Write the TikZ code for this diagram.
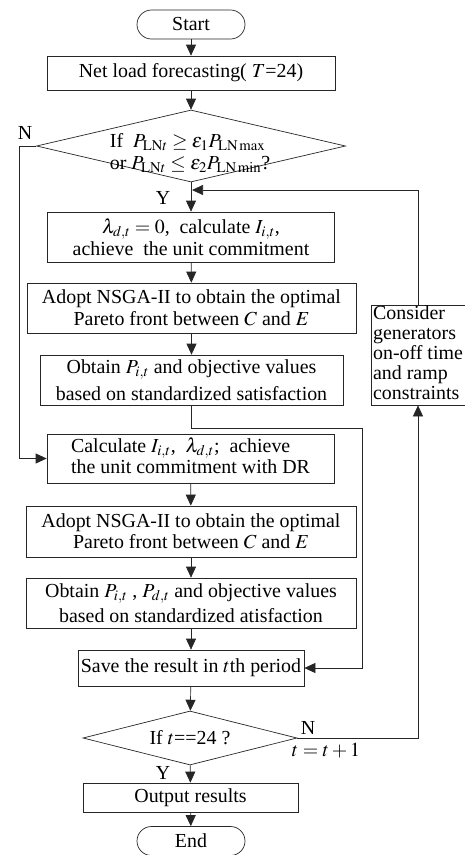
\documentclass[tikz,border=0pt]{standalone}
\usepackage{mathptmx}
\usepackage{fontspec}
\setmainfont{Liberation Serif}
\usetikzlibrary{shapes.geometric,arrows.meta}
\tikzset{
  box/.style={draw=black!85, line width=0.7pt, inner sep=0pt, align=center},
  term/.style={box, rounded corners=14.5pt},
  dec/.style={diamond, draw=black!85, line width=0.7pt, inner sep=0pt},
  arr/.style={draw=black!85, line width=0.7pt, -{Triangle[length=11pt,width=10pt]}}
}
\begin{document}
\begin{tikzpicture}[x=1pt,y=-1pt,font=\fontsize{19.9}{21.5}\selectfont]
\useasboundingbox (0,0) rectangle (465,855);
% main column
\node[term, minimum width=108, minimum height=29] (start) at (191,24.5) {Start};
\node[box, minimum width=288, minimum height=34] (load) at (191,73) {Net load forecasting( $T$=24)};
\node[dec, minimum width=309, minimum height=72] (dec1) at (191,146) {};
\node[align=left, inner sep=0pt] (dec1txt) at (190,153)
  {If\ \ $P_{\mathrm{LN}t}\geq\varepsilon_1P_{\mathrm{LN\,max}}$\\[1pt]or $P_{\mathrm{LN}t}\leq\varepsilon_2P_{\mathrm{LN\,min}}$?};
\node[box, minimum width=287, minimum height=50] (lam) at (191,237)
  {$\lambda_{d,t}=0$,\ \ calculate $I_{i,t}$,\\achieve\ \ the unit commitment};
\node[box, minimum width=329, minimum height=50] (adopt1) at (191.5,308)
  {Adopt NSGA-II to obtain the optimal\\Pareto front between $C$ and $E$};
\node[box, minimum width=303, minimum height=50] (obtain1) at (191.5,380)
  {Obtain $P_{i,t}$ and objective values\\[6pt]based on standardized satisfaction};
\node[box, minimum width=287, minimum height=49] (calc) at (190.5,458.5)
  {\begin{tabular}{@{}l@{}}Calculate $I_{i,t}$,\ \ $\lambda_{d,t}$;\ \ achieve\\the unit commitment with DR\end{tabular}};
\node[box, minimum width=330, minimum height=51] (adopt2) at (191,531.5)
  {Adopt NSGA-II to obtain the optimal\\Pareto front between $C$ and $E$};
\node[box, minimum width=330, minimum height=50] (obtain2) at (191,603)
  {Obtain $P_{i,t}$ , $P_{d,t}$ and objective values\\[4pt]based on standardized atisfaction};
\node[box, minimum width=226, minimum height=36] (save) at (191,668) {Save the result in $t$th period};
\node[dec, minimum width=214, minimum height=54] (dec2) at (190,738) {};
\node[inner sep=0pt] (dec2txt) at (190,738) {If $t$==24 ?};
\node[box, minimum width=215, minimum height=29] (out) at (190.5,797.5) {Output results};
\node[term, minimum width=108, minimum height=29] (end) at (191,841) {End};
% side box
\node[box, minimum width=94, minimum height=100, font=\fontsize{19.9}{20}\selectfont] (cons) at (418,355)
  {\begin{tabular}{@{}l@{}}Consider\\generators\\on-off time\\and ramp\\constraints\end{tabular}};
% connectors
\coordinate (nturn) at (19,146);
\coordinate (ret) at (192,190);
\coordinate (o1turn) at (362,428);
\draw[arr] (start) -- (load);
\draw[arr] (load) -- (dec1);
\draw[arr] (dec1) -- (lam);
\draw[arr] (lam) -- (adopt1);
\draw[arr] (adopt1) -- (obtain1);
\draw[arr] (dec1.west) -- (nturn) |- (calc.west);
\draw[arr] (calc) -- (adopt2);
\draw[arr] (adopt2) -- (obtain2);
\draw[arr] (obtain2) -- (save);
\draw[arr] (obtain1.south) |- (o1turn) |- (save.east);
\draw[arr] (save) -- (dec2);
\draw[arr] (dec2) -- (out);
\draw[arr] (out) -- (end);
\draw[arr] (dec2.east) -| (cons.south);
\draw[arr] (cons.north) |- (ret);
% labels
\node (nlab1) at (25,133) {N};
\node (ylab1) at (163,198) {Y};
\node (nlab2) at (308,728) {N};
\node (tlab) at (326,751) {$t=t+1$};
\node (ylab2) at (163,773) {Y};
\end{tikzpicture}
\end{document}
